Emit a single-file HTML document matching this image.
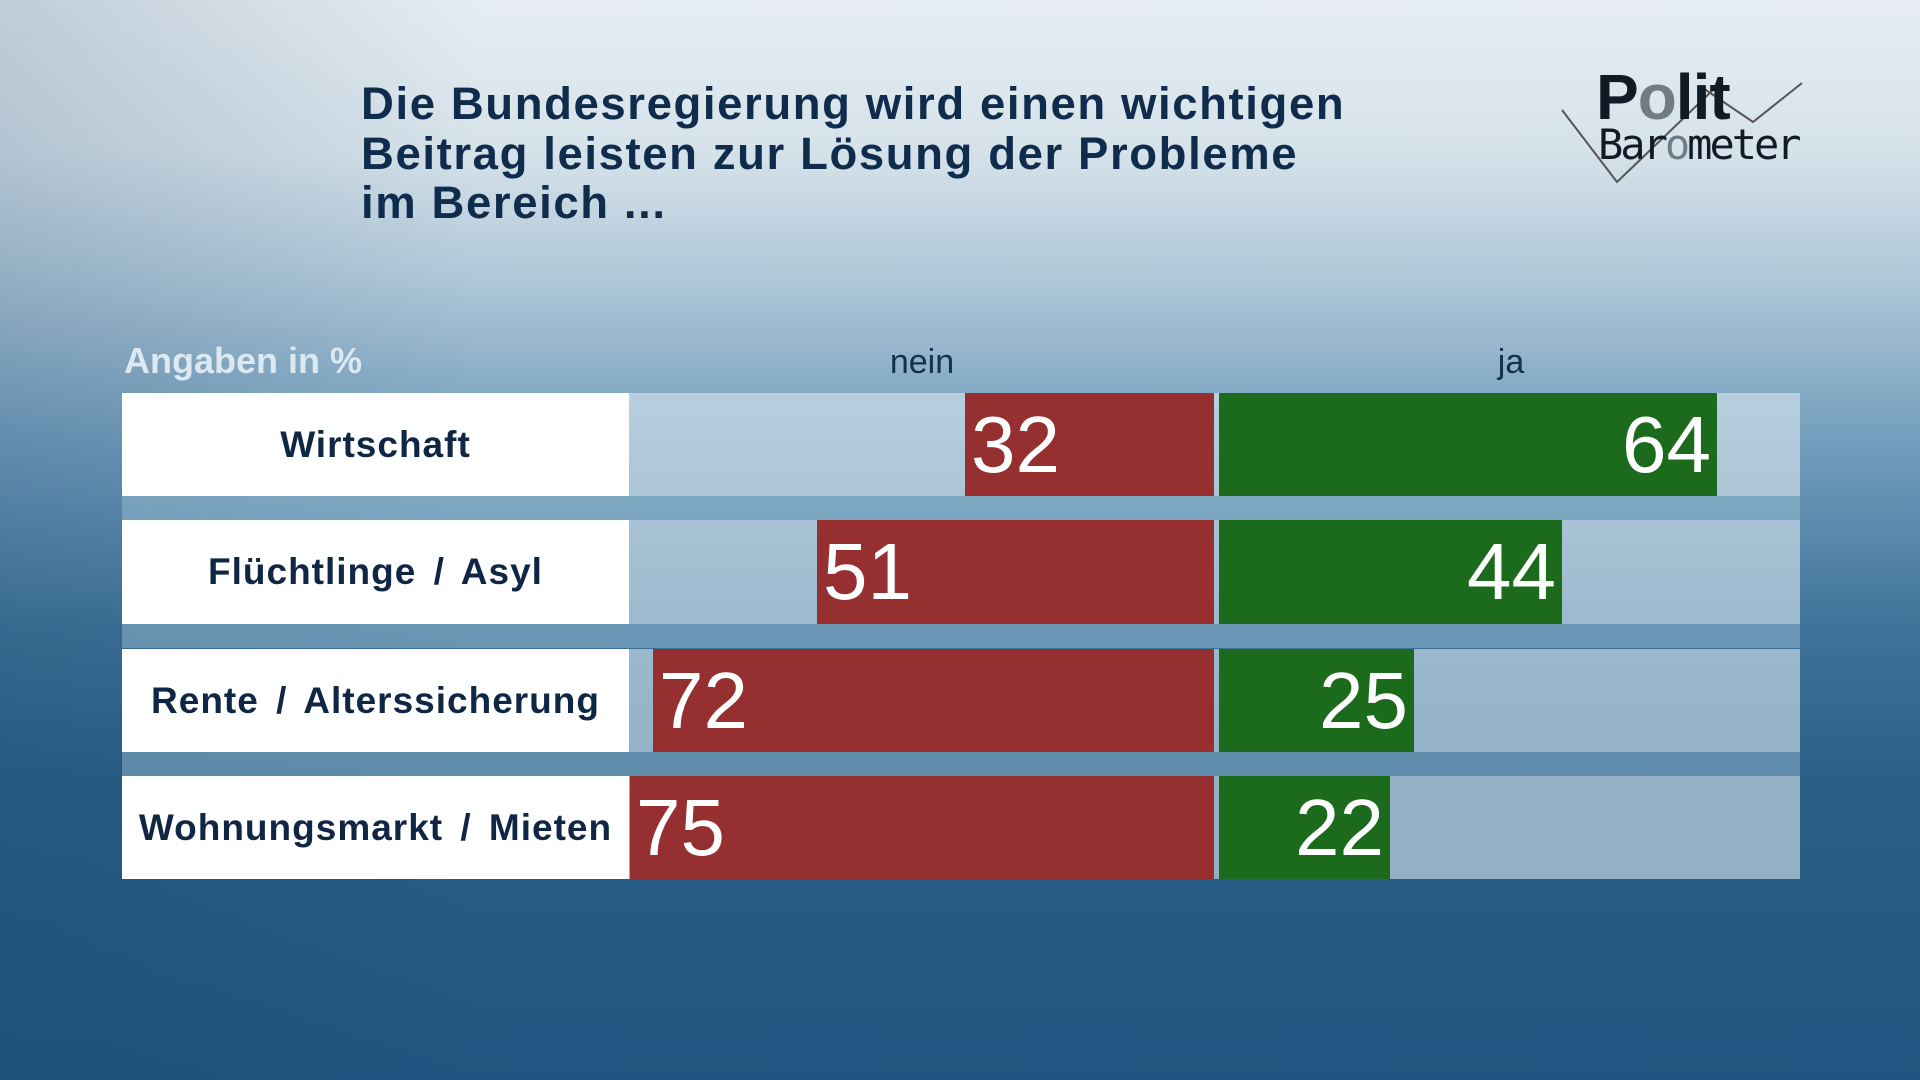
<!DOCTYPE html>
<html><head><meta charset="utf-8"><style>
*{margin:0;padding:0}
body{width:1920px;height:1080px;overflow:hidden;position:relative;font-family:"Liberation Sans",sans-serif;
background:linear-gradient(180deg,#e6edf2 0%,#d6e2ea 14%,#aec7d8 26%,#76a0be 40%,#3f7399 58%,#2b5f86 72%,#1f5580 100%);}
.lt{position:absolute;left:0;top:0;width:1920px;height:1080px;background:linear-gradient(90deg,rgba(20,60,100,.18) 0%,rgba(0,0,0,0) 25%)}
.t{position:absolute;left:361px;top:79px;font-size:45.5px;font-weight:bold;color:#0f2c4c;line-height:49.5px;letter-spacing:1.6px}
.ang{position:absolute;left:124px;top:340px;font-size:36px;font-weight:bold;color:#dde9f2}
.hd{position:absolute;top:343px;font-size:34px;color:#12304f;transform:translateX(-50%)}
.band{position:absolute;left:122px;width:1678px;height:24px;background:rgba(160,195,215,.45)}
.track{position:absolute;left:629px;width:1171px;background:rgba(220,232,240,.6)}
.lab{position:absolute;left:122px;width:507px;background:#fff;color:#0f2645;font-weight:bold;font-size:37px;letter-spacing:1px;word-spacing:6px;display:flex;align-items:center;justify-content:center}
.r,.g{position:absolute;color:#fff;font-family:"Liberation Sans Narrow","Liberation Sans",sans-serif;font-size:80px;display:flex;align-items:center}
.r{background:#952f30;padding-left:6px;box-sizing:border-box}
.g{background:#1c6a1c;justify-content:flex-end;padding-right:6px;box-sizing:border-box}
</style></head><body>
<div class="lt"></div>
<div class="t">Die Bundesregierung wird einen wichtigen<br>Beitrag leisten zur Lösung der Probleme<br>im Bereich ...</div>
<svg style="position:absolute;left:0;top:0" width="1920" height="300"><polyline points="1562,110 1617,182 1715,88" fill="none" stroke="#555" stroke-width="2"/><polyline points="1700,86 1753,122 1802,83" fill="none" stroke="#555" stroke-width="2"/></svg>
<div style="position:absolute;left:1596px;top:60px;font-size:64px;font-weight:bold;color:#111b26;letter-spacing:-1px">P<span style="color:#6f7b85">o</span>lit</div>
<div style="position:absolute;left:1598px;top:120px;font-size:42px;color:#111b26;font-family:'DejaVu Sans Mono','Liberation Mono',monospace;letter-spacing:-3px">Bar<span style="color:#6f7b85">o</span>meter</div>
<div class="ang">Angaben in %</div>
<div class="hd" style="left:922px">nein</div>
<div class="hd" style="left:1511px">ja</div>
<div class="band" style="top:496px"></div>
<div class="band" style="top:624px"></div>
<div class="band" style="top:752px"></div>

<div class="track" style="top:393px;height:103px"></div>
<div class="lab" style="top:393px;height:103px">Wirtschaft</div>
<div class="r" style="left:965px;width:249px;top:393px;height:103px">32</div>
<div class="g" style="left:1219px;width:498px;top:393px;height:103px">64</div>

<div class="track" style="top:520px;height:104px"></div>
<div class="lab" style="top:520px;height:104px">Flüchtlinge / Asyl</div>
<div class="r" style="left:817px;width:397px;top:520px;height:104px">51</div>
<div class="g" style="left:1219px;width:343px;top:520px;height:104px">44</div>

<div class="track" style="top:649px;height:103px"></div>
<div class="lab" style="top:649px;height:103px">Rente / Alterssicherung</div>
<div class="r" style="left:653px;width:561px;top:649px;height:103px">72</div>
<div class="g" style="left:1219px;width:195px;top:649px;height:103px">25</div>

<div class="track" style="top:776px;height:103px"></div>
<div class="lab" style="top:776px;height:103px">Wohnungsmarkt / Mieten</div>
<div class="r" style="left:630px;width:584px;top:776px;height:103px">75</div>
<div class="g" style="left:1219px;width:171px;top:776px;height:103px">22</div>
</body></html>
